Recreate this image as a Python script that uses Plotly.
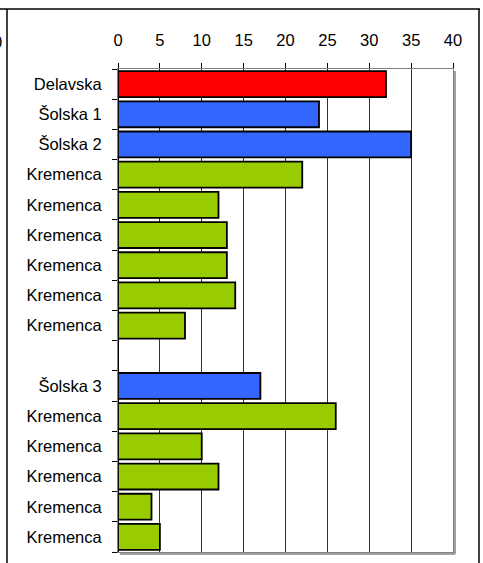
import plotly.graph_objects as go

# slot order from top to bottom; None marks the empty gap row
labels = ["Delavska", "Šolska 1", "Šolska 2", "Kremenca", "Kremenca", "Kremenca",
          "Kremenca", "Kremenca", "Kremenca", None, "Šolska 3", "Kremenca",
          "Kremenca", "Kremenca", "Kremenca", "Kremenca"]
values = [32, 24, 35, 22, 12, 13, 13, 14, 8, None, 17, 26, 10, 12, 4, 5]
groups = ["red", "blue", "blue", "green", "green", "green", "green", "green", "green",
          None, "blue", "green", "green", "green", "green", "green"]
colors = {"red": "#FF0000", "blue": "#3366FF", "green": "#99CC00"}
x_ticks = [0, 5, 10, 15, 20, 25, 30, 35, 40]

W, H = 483, 563
L, R, T, B = 118, 453, 69, 552

pos = [i for i, v in enumerate(values) if v is not None]

fig = go.Figure()
fig.add_bar(
    y=pos, x=[values[i] for i in pos], orientation="h", width=0.86,
    marker=dict(color=[colors[groups[i]] for i in pos], line=dict(color="#000000", width=1.8)),
    showlegend=False,
)

fig.update_xaxes(
    side="top", range=[0, 40], tickvals=x_ticks, ticks="outside", ticklen=5,
    ticklabelstandoff=10,
    tickcolor="#000000", showgrid=True, gridcolor="#333333", gridwidth=1.2,
    zeroline=True, zerolinecolor="#000000", zerolinewidth=1.4,
    showline=True, linecolor="#808080", mirror=True,
    tickfont=dict(family="Liberation Sans, Arial", size=16.5, color="#000000"),
)
fig.update_yaxes(
    range=[15.5, -0.5], tickvals=pos, ticktext=[labels[i] for i in pos], ticks="",
    ticklabelstandoff=12, showgrid=False, zeroline=False,
    showline=True, linecolor="#808080", mirror=True,
    minor=dict(tickmode="array", tickvals=[i - 0.5 for i in range(17)], ticks="outside",
               ticklen=5, tickcolor="#000000", showgrid=False),
    tickfont=dict(family="Liberation Sans, Arial", size=16.5, color="#000000"),
)


def px(x):
    return (x - L) / (R - L)


def py(y):
    return (B - y) / (B - T)


shapes = [
    # plot-area shadow
    dict(type="line", x0=px(R + 2), x1=px(R + 2), y0=py(T + 2), y1=py(B + 2),
         line=dict(color="#A0A0A0", width=2)),
    dict(type="line", x0=px(L + 2), x1=px(R + 2), y0=py(B + 2), y1=py(B + 2),
         line=dict(color="#A0A0A0", width=2)),
    # outer chart frame
    dict(type="line", x0=px(0), x1=px(480), y0=py(9), y1=py(9), line=dict(color="#000000", width=1.5)),
    dict(type="line", x0=px(7), x1=px(7), y0=py(9), y1=py(H), line=dict(color="#000000", width=1.5)),
    dict(type="line", x0=px(479), x1=px(479), y0=py(9), y1=py(H), line=dict(color="#000000", width=1.5)),
]
for s in shapes:
    s.update(xref="paper", yref="paper")

fig.update_layout(
    width=W, height=H, margin=dict(l=L, r=W - R, t=T, b=H - B),
    paper_bgcolor="#FFFFFF", plot_bgcolor="#FFFFFF", shapes=shapes,
    font=dict(family="Liberation Sans, Arial", size=16.5, color="#000000"),
    bargap=0.14,
    annotations=[dict(text="0", xref="paper", yref="paper", x=px(4), y=py(42),
                      xanchor="right", yanchor="middle", showarrow=False,
                      font=dict(size=16.5, color="#000000"))],
)

# drop the page's default body margin so the chart sits at the window's corner
fig.write_html("out.html", config={"displayModeBar": False},
               post_script="document.body.style.margin='0';")
